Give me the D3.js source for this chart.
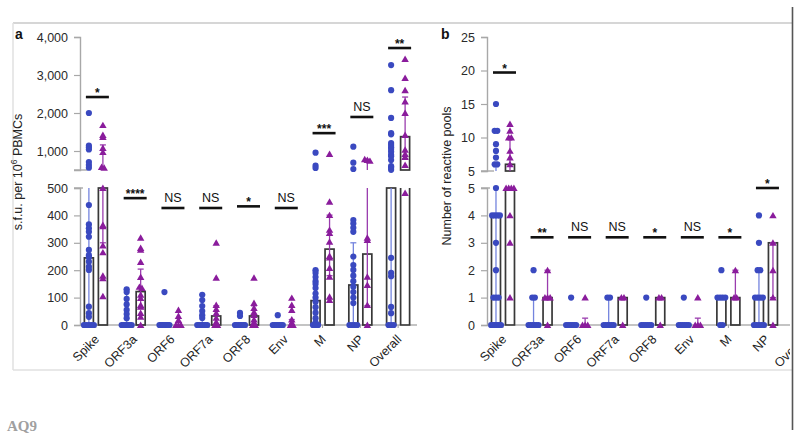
<!DOCTYPE html>
<html><head><meta charset="utf-8">
<script src="https://cdn.jsdelivr.net/npm/d3@7"></script>
<style>body{margin:0;background:#fff;} svg{display:block;font-family:"Liberation Sans",Arial,sans-serif;}</style>
</head><body><svg id="c" width="800" height="437"></svg>
<script>
// ---------- DATA ----------
const categories = ["Spike","ORF3a","ORF6","ORF7a","ORF8","Env","M","NP","Overall"];

// Panel a: s.f.u. per 10^6 PBMCs (broken axis at 500)
const sfuTicksLower = [0,100,200,300,400,500];
const sfuTicksUpper = [1000,2000,3000,4000];
const sfuBlue = [
  [2000,1140,1090,1040,710,630,560,438,367,353,340,322,274,255,247,231,213,201,67,43,30,0,0,0,0,0],
  [130,120,95,75,55,40,25,0,0,0,0,0,0,0],
  [120,0,0,0,0,0,0,0,0],
  [110,91,69,51,36,26,0,0,0,0,0,0,0],
  [44,33,0,0,0,0,0,0,0],
  [36,0,0,0,0,0,0,0],
  [955,613,553,200,190,175,160,150,135,115,100,85,65,45,25,10,0,0,0],
  [1113,692,526,383,370,355,340,250,219,201,180,160,140,120,100,80,0,0,0,0],
  [3260,2600,1870,1470,1440,1210,1160,1100,1050,980,900,860,760,600,560,505,245,190,178,66,43,0,0,0]
];
const sfuPurple = [
  [1680,1420,1370,1080,970,580,560,500,365,360,290,265,180,170,105],
  [318,281,274,230,175,139,135,110,98,73,66,44,30,0],
  [55,33,18,0,0,0],
  [300,172,73,58,44,26,11,0,0],
  [172,80,62,47,36,20,10,0,0],
  [99,73,55,20,8,0,0],
  [920,450,401,347,336,304,252,246,208,176,103,91],
  [780,760,740,318,310,176,146,73,0],
  [3420,2920,2600,2300,2000,1420,1030,920,840,630,482]
];
const sfuBlueMedian   = [245,0,0,0,0,0,89,146,500];
const sfuPurpleMedian = [500,122,0,33,33,0,277,259,1377];
const sfuBlueRange   = [[0,500],[0,130],[0,0],[0,110],[0,0],[0,0],[0,200],[0,300],[0,1000]];
const sfuPurpleRange = [[300,1160],[60,204],[0,0],[0,70],[0,70],[0,20],[180,401],[70,780],[800,2420]];
const sfuSig      = ["*","****","NS","NS","*","NS","***","NS","**"];
const sfuSigLevel = [2420,463,427,427,433,427,1470,1895,3710];

// Panel b: number of reactive pools (broken axis at 5)
const poolTicksLower = [0,1,2,3,4,5];
const poolTicksUpper = [5,10,15,20,25];
const poolBlue = [
  [15,11,11,9,8,7,6,6,5,4,4,4,4,3,2,1,1,1,0,0,0,0,0,0],
  [2,1,1,0,0,0,0,0,0],
  [1,0,0,0,0,0,0],
  [1,1,0,0,0,0,0,0],
  [1,0,0,0,0,0,0],
  [1,0,0,0,0,0,0],
  [2,1,1,1,1,0,0],
  [4,3,2,2,1,1,1,1,0,0,0,0,0],
  []
];
const poolPurple = [
  [12,11,10,10,8,7,6,5,5,5,5,4,3,1],
  [2,1,1,1,0],
  [1,0,0,0],
  [1,1,0],
  [1,1,0],
  [1,0,0,0],
  [2,1,1],
  [4,3,2,1,0],
  []
];
const poolBlueMedian   = [4,0,0,0,0,0,1,1,null];
const poolPurpleMedian = [6,1,0,1,1,0,1,3,null];
const poolBlueRange   = [[0,5.65],[0,1],[0,0],[0,1],[0,0],[0,0],[1,1],[0,2],null];
const poolPurpleRange = [[5,10],[1,2],[0,0.25],[1,1],[1,1],[0,0.25],[1,2],[1,3],null];
const poolSig      = ["*","**","NS","NS","*","NS","*","*",null];
const poolSigLevel = [19.7,3.2,3.2,3.2,3.2,3.2,3.2,5.0,null];

// ---------- DRAWING ----------
const BLUE = "#3a49c0", PURPLE = "#8a1c9c", BLUE_L = "#7484de", PURPLE_L = "#9a3cae";
const svg = d3.select("#c");

// figure frame
svg.append("line").attr("x1",13).attr("x2",792).attr("y1",23).attr("y2",23).attr("stroke","#d6d6d6").attr("stroke-width",2);
svg.append("line").attr("x1",13).attr("x2",13).attr("y1",23).attr("y2",370).attr("stroke","#e0e0e0").attr("stroke-width",1.5);
svg.append("line").attr("x1",13).attr("x2",792).attr("y1",370).attr("y2",370).attr("stroke","#e0e0e0").attr("stroke-width",1.5);
svg.append("line").attr("x1",792.5).attr("x2",792.5).attr("y1",7).attr("y2",430).attr("stroke","#555").attr("stroke-width",1.6);
svg.append("text").attr("x",7).attr("y",431).attr("font-family","'Liberation Serif','Times New Roman',serif")
  .attr("font-weight","bold").attr("font-size",15).attr("fill","#a0a0a0").text("AQ9");

function brokenScale(lowDom, lowRange, upDom, upRange){
  const lo = d3.scaleLinear().domain(lowDom).range(lowRange);
  const up = d3.scaleLinear().domain(upDom).range(upRange);
  const f = v => v <= lowDom[1] ? lo(v) : up(v);
  f.lo = lo; f.up = up; f.brk = lowDom[1];
  return f;
}

function panel(cfg){
  const g = svg.append("g");
  const root = cfg.clip ? g.append("g").attr("clip-path","url(#"+cfg.clip+")") : g;
  const x = d3.scalePoint().domain(categories).range(cfg.xRange).padding(0.5);
  const y = cfg.y;
  const ax = cfg.axisX;
  const fmt = cfg.fmt;
  const up = g.append("g").attr("transform",`translate(${ax},0)`)
    .call(d3.axisLeft(y.up).tickValues(cfg.upTicks).tickFormat(fmt).tickSize(6).tickPadding(6));
  const lo = g.append("g").attr("transform",`translate(${ax},0)`)
    .call(d3.axisLeft(y.lo).tickValues(cfg.lowTicks).tickFormat(fmt).tickSize(6).tickPadding(6));
  [up,lo].forEach(a=>{
    a.select(".domain").attr("stroke","#a8a8a8").attr("stroke-width",1.4);
    a.selectAll(".tick line").attr("stroke","#a8a8a8").attr("stroke-width",1.2);
    a.selectAll(".tick text").attr("font-size",12.5).attr("fill","#2a2a2a").attr("font-family","'Liberation Sans',Arial,sans-serif");
  });
  g.append("line").attr("x1",ax-6).attr("x2",ax+7).attr("y1",y.up(y.brk)).attr("y2",y.up(y.brk)).attr("stroke","#a8a8a8").attr("stroke-width",1.4);
  g.append("line").attr("x1",ax-6).attr("x2",ax+3).attr("y1",y.lo(y.brk)).attr("y2",y.lo(y.brk)).attr("stroke","#a8a8a8").attr("stroke-width",1.4);
  root.append("line").attr("x1",ax).attr("x2",cfg.xEnd).attr("y1",y(0)).attr("y2",y(0)).attr("stroke","#b0b0b0").attr("stroke-width",1.4);
  categories.forEach(c=>{
    root.append("line").attr("x1",x(c)).attr("x2",x(c)).attr("y1",y(0)).attr("y2",y(0)+3).attr("stroke","#a0a0a0").attr("stroke-width",1);
    root.append("text").attr("transform",`translate(${x(c)+1},${y(0)+12}) rotate(-45)`)
      .attr("text-anchor","end").attr("dy","0.35em").attr("font-size",12.5).attr("fill","#222").text(c);
  });
  const bw = 9, off = 7;
  const series = [
    {vals:cfg.blue, med:cfg.blueMed, rng:cfg.blueRng, dx:-off, color:BLUE, lcolor:BLUE_L, shape:"c"},
    {vals:cfg.purple, med:cfg.purpleMed, rng:cfg.purpleRng, dx:off, color:PURPLE, lcolor:PURPLE_L, shape:"t"}
  ];
  series.forEach(s=>{
    categories.forEach((c,i)=>{
      const m = s.med[i]; if(m==null) return;
      const cx = x(c)+s.dx, x0 = cx-bw/2, x1 = cx+bw/2, yb = y(0);
      if(m <= y.brk){
        root.append("rect").attr("x",x0).attr("y",y(m)).attr("width",bw).attr("height",Math.max(0,yb-y(m)))
          .attr("fill","none").attr("stroke","#383838").attr("stroke-width",1.7);
      } else {
        const yt = y.lo(y.brk);
        root.append("path").attr("d",`M${x0},${yt}L${x0},${yb}L${x1},${yb}L${x1},${yt}`)
          .attr("fill","none").attr("stroke","#383838").attr("stroke-width",1.7);
        root.append("rect").attr("x",x0).attr("y",y.up(m)).attr("width",bw).attr("height",y.up(y.brk)-y.up(m))
          .attr("fill","none").attr("stroke","#383838").attr("stroke-width",1.7);
      }
    });
  });
  series.forEach(s=>{
    categories.forEach((c,i)=>{
      const r = s.rng[i]; if(!r || r[0]===r[1]) return;
      const cx = x(c)+s.dx;
      const segs = [];
      if(r[0] < y.brk) segs.push([y.lo(r[0]), y.lo(Math.min(r[1],y.brk))]);
      if(r[1] > y.brk) segs.push([y.up(Math.max(r[0],y.brk)), y.up(r[1])]);
      segs.forEach(sg=>root.append("line").attr("x1",cx).attr("x2",cx).attr("y1",sg[0]).attr("y2",sg[1])
        .attr("stroke",s.lcolor).attr("stroke-width",1.3));
      [r[0],r[1]].forEach(v=>{
        if(v===0 || v===y.brk) return;
        root.append("line").attr("x1",cx-3).attr("x2",cx+3).attr("y1",y(v)).attr("y2",y(v))
          .attr("stroke",s.lcolor).attr("stroke-width",1.3);
      });
    });
  });
  series.forEach(s=>{
    categories.forEach((c,i)=>{
      const vals = s.vals[i]; if(!vals.length) return;
      const groups = d3.groups(vals, v=>Math.round(y(v)/2.5));
      groups.forEach(([k,arr])=>{
        const n = arr.length, sp = n>1 ? Math.min(2.6, 10/(n-1)) : 0;
        arr.forEach((v,j)=>{
          const px = x(c)+s.dx + (j-(n-1)/2)*sp;
          const py = y(v);
          if(s.shape==="c"){
            root.append("circle").attr("cx",px).attr("cy",py).attr("r",3.1).attr("fill",s.color);
          } else {
            root.append("path").attr("d",d3.symbol(d3.symbolTriangle,24)()).attr("transform",`translate(${px},${py+0.8})`).attr("fill",s.color);
          }
        });
      });
    });
  });
  categories.forEach((c,i)=>{
    const lab = cfg.sig[i]; if(lab==null) return;
    const yy = y(cfg.sigLevel[i]);
    root.append("line").attr("x1",x(c)-10).attr("x2",x(c)+13).attr("y1",yy).attr("y2",yy).attr("stroke","#111").attr("stroke-width",2.6);
    if(lab==="NS"){
      root.append("text").attr("x",x(c)+1.5).attr("y",yy-6).attr("text-anchor","middle").attr("font-size",12.5).attr("fill","#111").text(lab);
    } else {
      root.append("text").attr("x",x(c)+1.5).attr("y",yy+0).attr("text-anchor","middle").attr("font-size",12).attr("font-weight","bold").attr("fill","#111").text(lab);
    }
  });
  g.append("text").attr("x",cfg.letter[0]).attr("y",cfg.letter[1]).attr("font-size",14).attr("font-weight","bold").attr("fill","#111").text(cfg.letterText);
  const t = g.append("text").attr("transform",`translate(${cfg.title[0]},${cfg.title[1]}) rotate(-90)`)
    .attr("text-anchor","middle").attr("font-size",12.5).attr("fill","#222");
  cfg.titleParts(t);
}

svg.append("defs").append("clipPath").attr("id","clipB").append("rect").attr("x",440).attr("y",0).attr("width",350).attr("height",437);

panel({
  xRange:[77,417], axisX:80, xEnd:417,
  y: brokenScale([0,500],[325,188],[500,4000],[170,37]),
  upTicks: sfuTicksUpper, lowTicks: sfuTicksLower, fmt: d3.format(","),
  blue: sfuBlue, purple: sfuPurple, blueMed: sfuBlueMedian, purpleMed: sfuPurpleMedian,
  blueRng: sfuBlueRange, purpleRng: sfuPurpleRange, sig: sfuSig, sigLevel: sfuSigLevel,
  letter:[15,39], letterText:"a", title:[22,172],
  titleParts: t=>{ t.append("tspan").text("s.f.u. per 10"); t.append("tspan").attr("font-size",8.5).attr("dy",-5).text("6"); t.append("tspan").attr("dy",5).text(" PBMCs"); }
});
panel({
  xRange:[484.2,822.3], axisX:487, xEnd:822, clip:"clipB",
  y: brokenScale([0,5],[325,188],[5,25],[171,37]),
  upTicks: poolTicksUpper, lowTicks: poolTicksLower, fmt: d3.format("d"),
  blue: poolBlue, purple: poolPurple, blueMed: poolBlueMedian, purpleMed: poolPurpleMedian,
  blueRng: poolBlueRange, purpleRng: poolPurpleRange, sig: poolSig, sigLevel: poolSigLevel,
  letter:[441,39], letterText:"b", title:[451,176],
  titleParts: t=>{ t.text("Number of reactive pools"); }
});
</script></body></html>
